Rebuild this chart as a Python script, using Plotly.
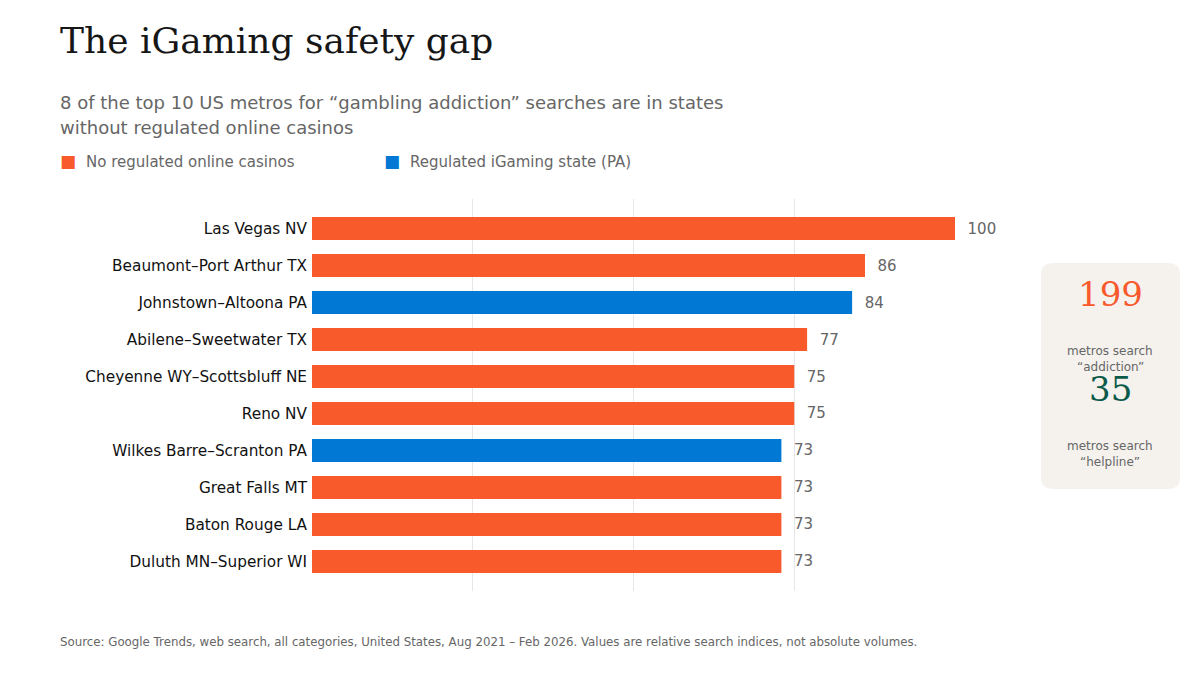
import plotly.graph_objects as go

metros = ["Las Vegas NV", "Beaumont–Port Arthur TX", "Johnstown–Altoona PA",
          "Abilene–Sweetwater TX", "Cheyenne WY–Scottsbluff NE", "Reno NV",
          "Wilkes Barre–Scranton PA", "Great Falls MT", "Baton Rouge LA",
          "Duluth MN–Superior WI"]
index = [100, 86, 84, 77, 75, 75, 73, 73, 73, 73]
regulated = [False, False, True, False, False, False, True, False, False, False]

addiction_metros = 199
helpline_metros = 35

ORANGE = "#f85a2c"
BLUE = "#0078d4"
GREEN = "#0b5a49"
GREY = "#666666"
SANS = "DejaVu Sans"
SERIF = "DejaVu Serif"

# the page puts the figure a few px in from the window corner
OX, OY = 8, 7
# plot area in screen pixels, used to place the extra text outside of it
PL, PR, PT, PB = 312, 955, 198, 590


def px(x):
    return (x - PL) / (PR - PL)


def py(y):
    return (PB - y) / (PB - PT)


colors = [BLUE if r else ORANGE for r in regulated]

fig = go.Figure()
fig.add_trace(go.Bar(
    x=index, y=metros, orientation="h",
    marker=dict(color=colors, line=dict(width=0)),
    width=0.62,
    text=["  " + str(v) for v in index],
    textposition="outside",
    textfont=dict(family=SANS, size=15, color=GREY),
    cliponaxis=False,
    hoverinfo="skip",
    showlegend=False,
))

ann = []


def note(x, y, text, size, color, family=SANS, xanchor="left"):
    ann.append(dict(x=px(x), y=py(y), xref="paper", yref="paper", text=text,
                    showarrow=False, xanchor=xanchor, yanchor="middle",
                    font=dict(family=family, size=size, color=color)))


note(58, 40, "The iGaming safety gap", 36, "#161616", SERIF)
note(58, 102, "8 of the top 10 US metros for “gambling addiction” searches are in states", 18, GREY)
note(58, 126, "without regulated online casinos", 18, GREY)

note(58, 160, "■", 17, ORANGE)
note(84, 161, "No regulated online casinos", 15, GREY)
note(382, 160, "■", 17, BLUE)
note(408, 161, "Regulated iGaming state (PA)", 15, GREY)

note(58, 641, "Source: Google Trends, web search, all categories, United States, Aug 2021 – Feb 2026. "
     "Values are relative search indices, not absolute volumes.", 11.8, GREY)

# stat card
cx = 1110
note(cx, 293, str(addiction_metros), 34, ORANGE, SERIF, "center")
note(cx, 350, "metros search", 12, GREY, xanchor="center")
note(cx, 366, "“addiction”", 12, GREY, xanchor="center")
note(cx, 388, str(helpline_metros), 34, GREEN, SERIF, "center")
note(cx, 445, "metros search", 12, GREY, xanchor="center")
note(cx, 461, "“helpline”", 12, GREY, xanchor="center")

x0, x1, y0, y1, r = 1041, 1180, 262, 488, 12
path = (f"M {px(x0 + r)} {py(y0)} L {px(x1 - r)} {py(y0)} "
        f"Q {px(x1)} {py(y0)} {px(x1)} {py(y0 + r)} L {px(x1)} {py(y1 - r)} "
        f"Q {px(x1)} {py(y1)} {px(x1 - r)} {py(y1)} L {px(x0 + r)} {py(y1)} "
        f"Q {px(x0)} {py(y1)} {px(x0)} {py(y1 - r)} L {px(x0)} {py(y0 + r)} "
        f"Q {px(x0)} {py(y0)} {px(x0 + r)} {py(y0)} Z")

fig.update_layout(
    width=1200, height=675,
    margin=dict(l=PL - OX, r=1200 - PR + OX, t=PT - OY, b=675 - PB + OY),
    paper_bgcolor="white", plot_bgcolor="white",
    annotations=ann,
    shapes=[dict(type="path", path=path, xref="paper", yref="paper",
                 fillcolor="#f5f2ee", line=dict(width=0), layer="below")],
    xaxis=dict(range=[0, 100], tickvals=[25, 50, 75, 100], showticklabels=False,
               showgrid=True, gridcolor="#e6e6e6", gridwidth=1, zeroline=False,
               showline=False, fixedrange=True),
    yaxis=dict(range=[len(metros) - 0.2, -0.8], showgrid=False, zeroline=False,
               showline=False, ticks="", ticklabelstandoff=4,
               tickfont=dict(family=SANS, size=15.3, color="#111111")),
    font=dict(family=SANS),
)

fig.write_html("out.html")
